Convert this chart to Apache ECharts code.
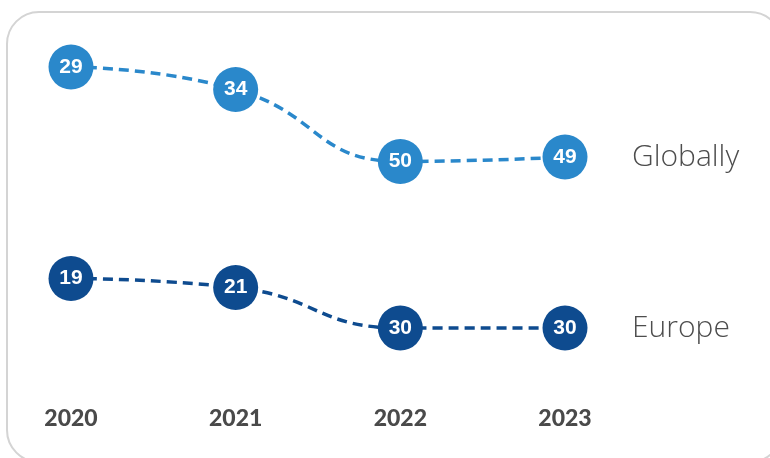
<!DOCTYPE html>
<html>
<head>
<meta charset="utf-8">
<script src="https://cdn.jsdelivr.net/npm/echarts@6/dist/echarts.min.js"></script>
<style>
html,body{margin:0;padding:0;background:#fff;}
#chart{width:770px;height:458px;}
</style>
</head>
<body>
<div id="chart"></div>
<script>
var years = ['2020', '2021', '2022', '2023'];
var globallyName = 'Globally';
var globallyValues = [29, 34, 50, 49];
var europeName = 'Europe';
var europeValues = [19, 21, 30, 30];

var chart = echarts.init(document.getElementById('chart'));

function lineSeries(name, data, color, axisIndex) {
  return {
    name: name,
    type: 'line',
    yAxisIndex: axisIndex,
    data: data,
    smooth: 0.5,
    symbol: 'circle',
    symbolSize: 45,
    itemStyle: { color: color },
    lineStyle: { color: color, width: 3.5, type: [10, 6] },
    label: {
      show: true,
      position: 'inside',
      color: '#ffffff',
      fontFamily: 'Liberation Sans',
      fontWeight: 'bold',
      fontSize: 21
    },
    endLabel: {
      show: true,
      formatter: name,
      distance: 67,
      color: '#4d4d4d',
      fontFamily: 'Open Sans',
      fontWeight: 300,
      fontSize: 30
    },
    emphasis: { disabled: true },
    animation: false
  };
}

chart.setOption({
  animation: false,
  grid: { left: 71, right: 205, top: 40, height: 360 },
  xAxis: {
    type: 'category',
    data: years,
    boundaryGap: false,
    axisLine: { show: false },
    axisTick: { show: false },
    splitLine: { show: false },
    axisLabel: {
      margin: 7,
      color: '#4a4a4a',
      fontFamily: 'Lato',
      fontWeight: 900,
      fontSize: 23
    }
  },
  yAxis: [
    { type: 'value', inverse: true, min: 23, max: 103, show: false, splitLine: { show: false } },
    { type: 'value', inverse: true, min: -34, max: 46, show: false, splitLine: { show: false } }
  ],
  graphic: [{
    type: 'rect',
    shape: { x: 7, y: 12, width: 775, height: 450, r: 32 },
    style: { fill: 'none', stroke: '#d4d4d4', lineWidth: 2 },
    z: -1
  }],
  series: [
    lineSeries(globallyName, globallyValues, '#2a88cb', 0),
    lineSeries(europeName, europeValues, '#0e4b8f', 1)
  ]
});
</script>
</body>
</html>
